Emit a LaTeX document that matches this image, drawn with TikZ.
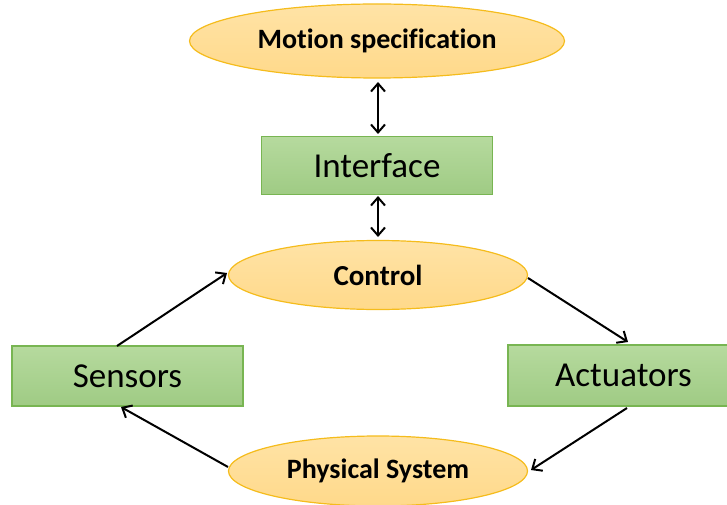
\documentclass[tikz,border=0pt]{standalone}
\usepackage{fontspec}
\setmainfont[Ligatures=NoCommon]{Carlito}
\usetikzlibrary{shapes.geometric,arrows.meta}
\definecolor{ovalfill}{HTML}{FFD98A}
\definecolor{ovaltop}{HTML}{FFE3A6}
\definecolor{ovaledge}{HTML}{F5BC1C}
\definecolor{boxtop}{HTML}{B6DA9E}
\definecolor{boxbot}{HTML}{9FCB84}
\definecolor{boxedge}{HTML}{78B552}
\tikzset{
  oval/.style={ellipse, draw=ovaledge, line width=1.2pt, top color=ovaltop, bottom color=ovalfill,
    inner sep=0pt, font=\bfseries\fontsize{28}{32}\selectfont},
  greenbox/.style={rectangle, draw=boxedge, line width=1.2pt, top color=boxtop, bottom color=boxbot,
    inner sep=0pt, minimum width=231pt, minimum height=58pt, font=\fontsize{35}{40}\selectfont},
  link/.style={line width=2pt, -{Straight Barb[length=8pt,width=14pt]}},
  dlink/.style={line width=2pt, {Straight Barb[length=8pt,width=14pt]}-{Straight Barb[length=8pt,width=14pt]}}
}
\begin{document}
\begin{tikzpicture}[x=1pt,y=-1pt]
\useasboundingbox (0,0) rectangle (727,505);
\begin{scope}
\clip (0,0) rectangle (727,505);
% the five blocks of the loop
\node[oval, minimum width=375pt, minimum height=74pt] (motion) at (377,41) {Motion specification};
\node[greenbox] (iface) at (377,165.5) {Interface};
\node[oval, minimum width=299pt, minimum height=69pt, font=\bfseries\fontsize{29}{32}\selectfont] (ctrl) at (378,275) {Control};
\node[greenbox, minimum height=60pt] (sens) at (127.5,376) {Sensors};
\node[greenbox, minimum height=61pt] (act) at (623.5,375.5) {Actuators};
\node[oval, minimum width=299pt, minimum height=70pt] (phys) at (378,471) {Physical System};
\end{scope}
% connectors
\coordinate (m1) at (378,82);
\coordinate (m2) at (378,134);
\draw[dlink] (m1) -- (m2);
\coordinate (i1) at (378,196);
\coordinate (i2) at (378,237);
\draw[dlink] (i1) -- (i2);
\coordinate (s1) at (117,346);
\coordinate (c1) at (227,273);
\draw[link] (s1) -- (c1);
\coordinate (c2) at (528,278);
\coordinate (a1) at (628,342);
\draw[link] (c2) -- (a1);
\coordinate (a2) at (627,408);
\coordinate (p1) at (531,470);
\draw[link] (a2) -- (p1);
\coordinate (p2) at (228,467);
\coordinate (s2) at (121,407);
\draw[link] (p2) -- (s2);
\end{tikzpicture}
\end{document}
